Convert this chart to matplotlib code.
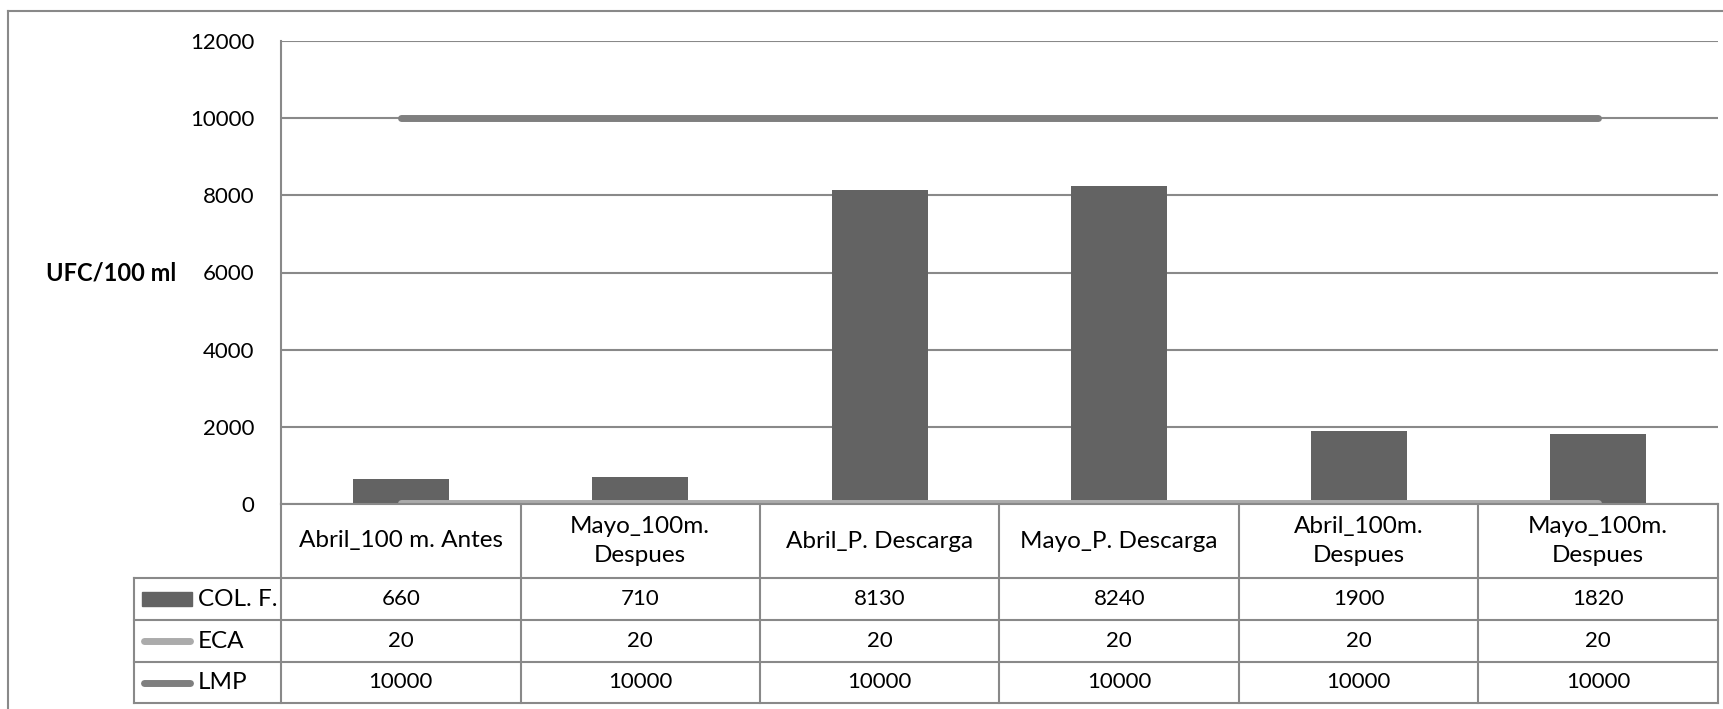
import matplotlib.pyplot as plt
from matplotlib.lines import Line2D
from matplotlib.patches import Rectangle
from matplotlib.transforms import blended_transform_factory

plt.rcParams['font.family'] = ['Lato', 'DejaVu Sans']

categories = ['Abril_100 m. Antes', 'Mayo_100m.\nDespues', 'Abril_P. Descarga',
              'Mayo_P. Descarga', 'Abril_100m.\nDespues', 'Mayo_100m.\nDespues']
col_f = [660, 710, 8130, 8240, 1900, 1820]
eca = [20, 20, 20, 20, 20, 20]
lmp = [10000, 10000, 10000, 10000, 10000, 10000]
yticks = [0, 2000, 4000, 6000, 8000, 10000, 12000]

W, H = 1724, 709
bar_color = '#636363'
eca_color = '#ababab'
lmp_color = '#7f7f7f'
grid_color = '#898989'
fs = 16
fs_text = 17.5

fig = plt.figure(figsize=(W / 100, H / 100), dpi=100)


def fx(px):
    return px / W


def fy(py):
    return 1 - py / H


# plot area in pixel terms
left, right, top, bottom = 281, 1718, 41, 504
ax = fig.add_axes([fx(left), fy(bottom), fx(right - left), fy(top) - fy(bottom)])

x = list(range(len(categories)))
ax.bar(x, col_f, width=0.4, color=bar_color, zorder=2)
ax.plot(x, eca, color=eca_color, lw=5, solid_capstyle='round', zorder=3)
ax.plot(x, lmp, color=lmp_color, lw=5, solid_capstyle='round', zorder=3)

ax.set_xlim(-0.5, len(categories) - 0.5)
ax.set_ylim(0, 12000)
ax.set_yticks(yticks)
ax.set_yticklabels([str(v) for v in yticks], fontsize=fs)
ax.tick_params(axis='y', length=0, pad=19)
ax.set_xticks([])
ax.grid(axis='y', color=grid_color, lw=1.5, zorder=0)
for side in ['top', 'right', 'bottom']:
    ax.spines[side].set_visible(False)
ax.spines['left'].set_color(grid_color)
ax.spines['left'].set_linewidth(1.5)

fig.text(fx(111), fy(273), 'UFC/100 ml', fontsize=17, fontweight='bold',
         ha='center', va='center')

# data table under the chart
tr = blended_transform_factory(ax.transData, fig.transFigure)
line_kw = dict(color=grid_color, lw=1.5, clip_on=False)
row_edges = [504, 578, 620, 662, 703]
legend_left = 134
n = len(categories)

# vertical separators of the category columns
for i in range(n + 1):
    ax.add_line(Line2D([i - 0.5, i - 0.5], [fy(row_edges[0]), fy(row_edges[-1])],
                       transform=tr, **line_kw))
# horizontal rules
fig.add_artist(Line2D([fx(left), fx(right)], [fy(504)] * 2, **line_kw))
for py in row_edges[1:]:
    fig.add_artist(Line2D([fx(legend_left), fx(right)], [fy(py)] * 2, **line_kw))
fig.add_artist(Line2D([fx(legend_left)] * 2, [fy(row_edges[1]), fy(row_edges[-1])], **line_kw))

# category labels
for i, cat in enumerate(categories):
    ax.text(i, fy((row_edges[0] + row_edges[1]) / 2), cat, transform=tr,
            ha='center', va='center', fontsize=fs_text, linespacing=1.5)

# value rows with legend keys
rows = [('COL. F.', col_f), ('ECA', eca), ('LMP', lmp)]
for r, (name, vals) in enumerate(rows):
    yc = fy((row_edges[r + 1] + row_edges[r + 2]) / 2)
    for i, v in enumerate(vals):
        ax.text(i, yc, str(v), transform=tr, ha='center', va='center', fontsize=fs)
    fig.text(fx(198), yc, name, ha='left', va='center', fontsize=fs_text)

yc0 = (row_edges[1] + row_edges[2]) / 2
fig.add_artist(Rectangle((fx(142), fy(yc0 + 7)), fx(50), fy(yc0 - 7) - fy(yc0 + 7),
                         color=bar_color, transform=fig.transFigure))
for r, c in [(1, eca_color), (2, lmp_color)]:
    yc = fy((row_edges[r + 1] + row_edges[r + 2]) / 2)
    fig.add_artist(Line2D([fx(144), fx(190)], [yc, yc], color=c, lw=5,
                          solid_capstyle='round'))

# chart area border
fig.add_artist(Line2D([fx(8), 1], [fy(11)] * 2, **line_kw))
fig.add_artist(Line2D([fx(8)] * 2, [fy(11), 0], **line_kw))

fig.savefig('out.png', dpi=100, facecolor='white')
